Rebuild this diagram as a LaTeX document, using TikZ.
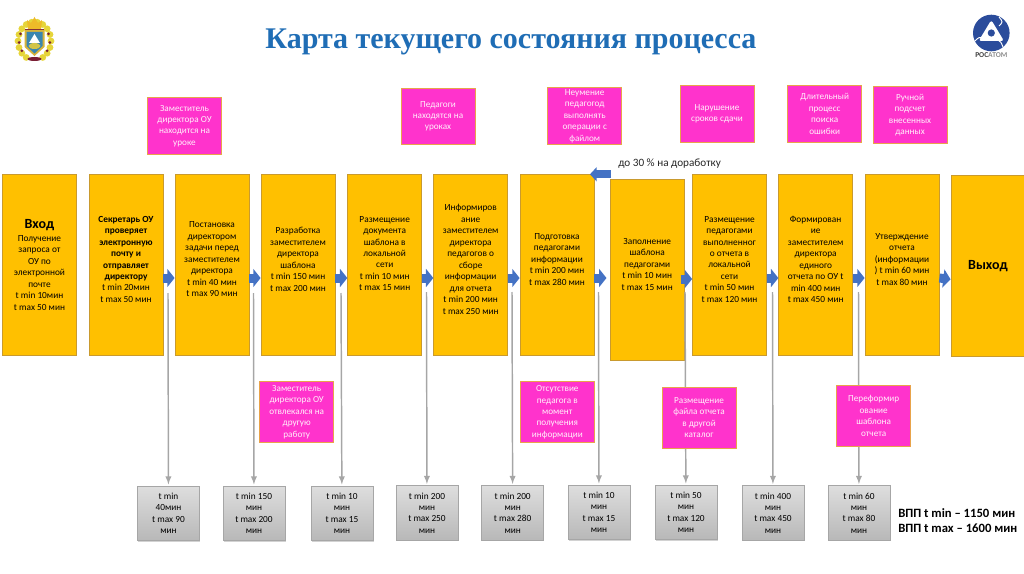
\documentclass[tikz,border=0pt]{standalone}
\usepackage{fontspec}
\setmainfont{Carlito}
\newfontfamily\titlefont{Liberation Serif}
\usepackage{tikz}
\usetikzlibrary{arrows.meta, shadows}
\definecolor{procyellow}{HTML}{FFC000}
\definecolor{procedge}{HTML}{C99A2E}
\definecolor{wastepink}{HTML}{FF33CC}
\definecolor{wasteedge}{HTML}{E8A34A}
\definecolor{flowblue}{HTML}{4472C4}
\definecolor{titleblue}{HTML}{1F6DB5}
\definecolor{linegray}{HTML}{A6A6A6}
\definecolor{atomblue}{HTML}{2B4C9B}
\definecolor{wreathgold}{HTML}{E6D53A}
\definecolor{ribbonred}{HTML}{7A1F35}
\definecolor{shieldblue}{HTML}{3A86B0}
\tikzset{
    procbox/.style={draw=procedge, fill=procyellow, line width=0.6pt, minimum width=55.5pt, minimum height=136pt, inner sep=0pt, align=center, text=black, font=\fontsize{7}{8.6}\selectfont},
    wastebox/.style={draw=wasteedge, fill=wastepink, line width=0.6pt, minimum width=55.5pt, minimum height=42.4pt, inner sep=0pt, align=center, text=white!92!wastepink, font=\fontsize{6.9}{8.6}\selectfont},
    wastetall/.style={wastebox, minimum height=45.75pt},
    timebox/.style={draw=linegray, top color=black!13, bottom color=black!28, line width=0.6pt, minimum width=46.5pt, minimum height=41pt, inner sep=0pt, align=center, text=black, drop shadow={shadow xshift=0.4pt, shadow yshift=-0.8pt, fill=black!35}, font=\fontsize{7}{8.6}\selectfont},
    flowarrow/.style={flowblue, line width=6.75pt, -{Triangle[length=5.5pt, width=13.5pt]}},
    backarrow/.style={flowblue, line width=6pt, -{Triangle[length=5pt, width=10.5pt]}},
    lossline/.style={linegray, line width=1.1pt, -latex, shorten >=1pt}
}

\begin{document}
\begin{tikzpicture}[x=0.75pt, y=-0.75pt]
    \useasboundingbox (0, 0) rectangle (1024, 574);

    % Title
    \node[text=titleblue, font=\titlefont\bfseries\fontsize{22.5}{27}\selectfont] (title) at (511, 42) {Карта текущего состояния процесса};

    % Coat of arms
    \foreach \a in {-150, -130, ..., 150} {
        \fill[wreathgold] ({34.5 + 16.5*sin(\a)}, {41 - 19*cos(\a)}) circle (3.4);
    }
    \foreach \a in {-125, -95, -65, 65, 95, 125} {
        \fill[ribbonred] ({34.5 + 15.5*sin(\a)}, {41 - 17*cos(\a)}) circle (1.5);
    }
    \fill[ribbonred] (34.5, 59) ellipse (7 and 2);
    \fill[wreathgold!70!orange] (28, 30) -- (27, 20) -- (31, 23) -- (34.5, 17) -- (38, 23) -- (42, 20) -- (41, 30) -- cycle;
    \fill[ribbonred] (25, 29) -- (44, 29) -- (44, 32) -- (25, 32) -- cycle;
    \fill[wreathgold!60!brown] (24.5, 30) -- (44.5, 30) -- (44.5, 47) -- (34.5, 56) -- (24.5, 47) -- cycle;
    \fill[shieldblue] (26.5, 32) -- (42.5, 32) -- (42.5, 46) -- (34.5, 53.5) -- (26.5, 46) -- cycle;
    \fill[white] (34.5, 34) -- (40, 43) -- (29, 43) -- cycle;
    \fill[wreathgold!80!gray] (34.5, 46) ellipse (6 and 3);

    % Rosatom logo
    \fill[atomblue] (991.3, 33) circle (18.3);
    \draw[white, line width=0.7pt] (999, 17) .. controls (1003, 22) .. (999, 26) (975, 41) .. controls (979, 37) .. (984, 38) (1003, 47) .. controls (1001, 42) .. (998, 40);
    \fill[white, rounded corners=2pt] (991.3, 20) -- (1004, 41) -- (978.6, 41) -- cycle;
    \fill[atomblue] (991.3, 33) circle (3.6);
    \node[inner sep=0pt, font=\bfseries\fontsize{5.6}{6}\selectfont] (atomname) at (991.3, 55) {\textcolor{black!75}{РОС}\textcolor{black!45}{АТОМ}};

    % Process steps
    \node[procbox] (vhod) at (39.5, 265) {{\bfseries\fontsize{10.5}{11}\selectfont Вход}\\[1pt]Получение\\запроса  от\\ОУ по\\электронной\\почте\\t min 10мин\\t max 50 мин};
    \node[procbox] (sekretar) at (126, 265) {\bfseries Секретарь ОУ\\\bfseries проверяет\\\bfseries электронную\\\bfseries почту и\\\bfseries отправляет\\\bfseries директору\\t min 20мин\\t max 50 мин\\~};
    \node[procbox] (zadacha) at (212, 265) {Постановка\\директором\\задачи перед\\заместителем\\директора\\t min 40 мин\\t max 90 мин\\~};
    \node[procbox] (razrab) at (298, 265) {Разработка\\заместителем\\директора\\шаблона\\t min 150 мин\\t max 200 мин\\~};
    \node[procbox] (razmesh) at (384.7, 265) {Размещение\\документа\\шаблона в\\локальной\\сети\\t min 10 мин\\t max 15 мин\\~\\~};
    \node[procbox] (inform) at (470.7, 265) {Информиров\\ание\\заместителем\\директора\\педагогов о\\сборе\\информации\\для отчета\\t min 200 мин\\t max 250 мин\\~};
    \node[procbox] (podgot) at (557, 265) {Подготовка\\педагогами\\информации\\t min 200 мин\\t max 280 мин\\~};
    \node[procbox] (zapoln) at (647.2, 270) {Заполнение\\шаблона\\педагогами\\t min 10 мин\\t max 15 мин\\~};
    \node[procbox] (razmotch) at (729.5, 265) {Размещение\\педагогами\\выполненног\\о отчета в\\локальной\\сети\\t min 50 мин\\t max 120 мин\\~};
    \node[procbox] (formir) at (815.7, 265) {Формирован\\ие\\заместителем\\директора\\единого\\отчета по ОУ t\\min 400 мин\\t max 450 мин\\~};
    \node[procbox] (utverzh) at (902, 265) {Утверждение\\отчета\\(информации\\) t min 60 мин\\t max 80 мин\\~};
    \node[procbox] (vyhod) at (988, 265.7) {\bfseries\fontsize{10.5}{12}\selectfont Выход};

    % Flow between steps
    \draw[flowarrow] ([yshift=-9.75pt]sekretar.east) -- ([yshift=-9.75pt]zadacha.west);
    \draw[flowarrow] ([yshift=-9.75pt]zadacha.east) -- ([yshift=-9.75pt]razrab.west);
    \draw[flowarrow] ([yshift=-9.75pt]razrab.east) -- ([yshift=-9.75pt]razmesh.west);
    \draw[flowarrow] ([yshift=-9.75pt]razmesh.east) -- ([yshift=-9.75pt]inform.west);
    \draw[flowarrow] ([yshift=-9.75pt]inform.east) -- ([yshift=-9.75pt]podgot.west);
    \draw[flowarrow, shorten >=2.5pt] ([yshift=-9.75pt]podgot.east) -- ([yshift=-9.75pt]podgot.east -| zapoln.west);
    \draw[flowarrow] ([xshift=-3pt, yshift=-6.75pt]zapoln.east) -- ([yshift=-10.5pt]razmotch.west);
    \draw[flowarrow] ([yshift=-9.75pt]razmotch.east) -- ([yshift=-9.75pt]formir.west);
    \draw[flowarrow] ([yshift=-9.75pt]formir.east) -- ([yshift=-9.75pt]utverzh.west);
    \draw[flowarrow] ([yshift=-9.75pt]utverzh.east) -- ([yshift=-10.25pt]vyhod.west);

    % Return to rework
    \coordinate (backstart) at (610.7, 174.3);
    \coordinate (backend) at (590, 174.3);
    \draw[backarrow] (backstart) -- (backend);
    \node[anchor=west, inner sep=0pt, text=black!85, font=\fontsize{8.4}{10}\selectfont] (rework) at (618, 164) {до 30 \% на доработку};

    % Time boxes
    \node[timebox] (time1) at (168.5, 513.5) {t min\\40мин\\t max 90\\мин};
    \node[timebox] (time2) at (254, 513.5) {t min 150\\мин\\t max 200\\мин};
    \node[timebox] (time3) at (342, 513.5) {t min 10\\мин\\t max 15\\мин};
    \node[timebox] (time4) at (427, 513) {t min 200\\мин\\t max 250\\мин};
    \node[timebox] (time5) at (512.7, 513) {t min 200\\мин\\t max 280\\мин};
    \node[timebox] (time6) at (599, 512.5) {t min 10\\мин\\t max 15\\мин};
    \node[timebox] (time7) at (686, 512.5) {t min 50\\мин\\t max 120\\мин};
    \node[timebox] (time8) at (773, 513) {t min 400\\мин\\t max 450\\мин};
    \node[timebox] (time9) at (859, 513) {t min 60\\мин\\t max 80\\мин};

    % Lines down to the time boxes
    \coordinate (drop1) at (168, 293);
    \coordinate (drop2) at (253.5, 293);
    \coordinate (drop3) at (341, 293);
    \coordinate (drop4) at (426.5, 292);
    \coordinate (drop5) at (512, 292);
    \coordinate (drop6) at (598.5, 292);
    \coordinate (drop7) at (685, 292);
    \coordinate (drop8) at (772.5, 292);
    \coordinate (drop9) at (858.5, 292);
    \draw[lossline] (drop1) -- (time1);
    \draw[lossline] (drop2) -- (time2);
    \draw[lossline] (drop3) -- (time3);
    \draw[lossline] (drop4) -- (time4);
    \draw[lossline] (drop5) -- (time5);
    \draw[lossline] (drop6) -- (time6);
    \draw[lossline] (drop7) -- (time7);
    \draw[lossline] (drop8) -- (time8);
    \draw[lossline] (drop9) -- (time9);

    % Losses above the steps
    \node[wastebox] (urok) at (184.5, 126) {Заместитель\\директора ОУ\\находится на\\уроке};
    \node[wastebox] (pedurok) at (438, 116.3) {Педагоги\\находятся на\\уроках};
    \node[wastebox] (neumen) at (584.7, 116) {Неумение\\педагогод\\выполнять\\операции с\\файлом};
    \node[wastebox] (sroki) at (717, 113.7) {Нарушение\\сроков сдачи};
    \node[wastebox] (poisk) at (824.7, 114) {Длительный\\процесс\\поиска\\ошибки};
    \node[wastebox] (podschet) at (910, 115) {Ручной\\подсчет\\внесенных\\данных};

    % Losses below the steps
    \node[wastetall] (otvlek) at (296.7, 412.2) {Заместитель\\директора ОУ\\отвлекался на\\другую\\работу};
    \node[wastetall] (otsut) at (557.3, 412.3) {Отсутствие\\педагога в\\момент\\получения\\информации};
    \node[wastetall] (katalog) at (699, 417.8) {Размещение\\файла отчета\\в другой\\каталог};
    \node[wastetall] (pereform) at (873.7, 415.8) {Переформир\\ование\\шаблона\\отчета};

    % Totals
    \node[anchor=west, align=left, inner sep=0pt, text=black, font=\bfseries\fontsize{9.5}{11.25}\selectfont] (total) at (898, 520.5) {ВПП t min – 1150 мин\\ВПП t max – 1600 мин};
\end{tikzpicture}
\end{document}
